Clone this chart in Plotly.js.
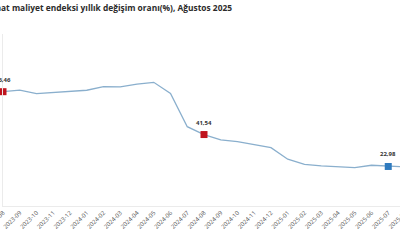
<!DOCTYPE html>
<html>
<head>
<meta charset="utf-8">
<script src="https://cdn.plot.ly/plotly-3.0.1.min.js"></script>
<style>
html,body{margin:0;padding:0;width:400px;height:240px;overflow:hidden;background:#fff;}
#chart{width:420px;height:240px;}
</style>
</head>
<body>
<div id="chart"></div>
<script>
const months = ["2023-08","2023-09","2023-10","2023-11","2023-12","2024-01","2024-02","2024-03","2024-04","2024-05","2024-06","2024-07","2024-08","2024-09","2024-10","2024-11","2024-12","2025-01","2025-02","2025-03","2025-04","2025-05","2025-06","2025-07","2025-08"];
const values = [66.46,67.4,65.3,66.0,66.6,67.3,69.4,69.3,70.9,71.9,65.5,46.1,41.54,38.4,37.4,35.5,33.9,27.2,24.2,23.3,22.7,22.3,23.7,22.98,22.7];
const highlightMonths = ["2023-08","2024-08","2025-07"];
const highlightValues = [66.46,41.54,22.98];
const highlightLabels = ["66,46","41,54","22,98"];
const highlightColors = ["#c0141e","#c0141e","#2f7bbf"];
const titleText = "İnşaat maliyet endeksi yıllık değişim oranı(%), Ağustos 2025";

const traces = [
  {x: months, y: values, type: "scatter", mode: "lines",
   line: {color: "#8aafcd", width: 1.3}, hoverinfo: "skip", cliponaxis: true},
  {x: highlightMonths, y: highlightValues, type: "scatter", mode: "markers",
   marker: {symbol: "square", size: 7, color: highlightColors}, cliponaxis: false}
];
const annotations = highlightMonths.map((m, i) => ({
  x: m, y: highlightValues[i], xref: "x", yref: "y", text: "<b>" + highlightLabels[i] + "</b>",
  showarrow: false, yshift: 12,
  font: {family: "Open Sans, Arial, sans-serif", size: 6, color: "#333"}
}));

const layout = {
  width: 420, height: 240,
  margin: {l: 3, r: 15, t: 34, b: 34},
  paper_bgcolor: "#fff", plot_bgcolor: "#fff",
  showlegend: false,
  title: {text: "<b>" + titleText + "</b>", xref: "container", yref: "container",
    x: 232/420, xanchor: "right", y: 1 - 8/240, yanchor: "middle",
    font: {family: "Open Sans, Arial, sans-serif", size: 8.4, color: "#2b2b2b"}},
  xaxis: {type: "category", categoryorder: "array", categoryarray: months,
    range: [0, 24], showgrid: false, zeroline: false,
    showline: true, linecolor: "#ebebeb", linewidth: 1,
    tickangle: -45, ticks: "", tickfont: {family: "Open Sans, Arial, sans-serif", size: 6, color: "#555"}},
  yaxis: {range: [0, 100], showgrid: false, zeroline: false, showticklabels: false,
    showline: true, linecolor: "#ebebeb", linewidth: 1, ticks: ""},
  annotations: annotations
};
Plotly.newPlot("chart", traces, layout, {displayModeBar: false, staticPlot: true});
</script>
</body>
</html>
